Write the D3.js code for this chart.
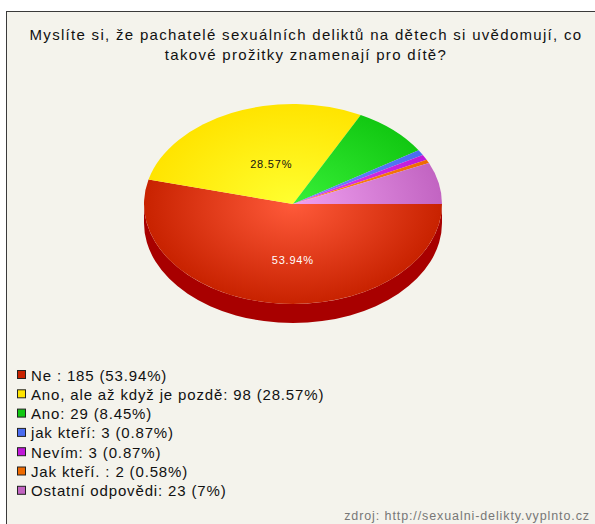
<!DOCTYPE html>
<html lang="cs">
  <head>
    <meta charset="UTF-8" />
    <style>
      body { margin: 0; background: #fff; }
      text { font-family: "Liberation Sans", Arial, sans-serif; }
    </style>
    <title>pie</title>
  </head>
  <body>
    <svg width="595" height="524" id="svg"></svg>
    <script src="https://cdn.jsdelivr.net/npm/d3@7"></script>
    <script>
      // data
      const labels = ["Ne", "Ano, ale až když je pozdě", "Ano", "jak kteří", "Nevím", "Jak kteří.", "Ostatní odpovědi"];
      const counts = [185, 98, 29, 3, 3, 2, 23];
      const legendText = [
        "Ne : 185 (53.94%)",
        "Ano, ale až když je pozdě: 98 (28.57%)",
        "Ano: 29 (8.45%)",
        "jak kteří: 3 (0.87%)",
        "Nevím: 3 (0.87%)",
        "Jak kteří. : 2 (0.58%)",
        "Ostatní odpovědi: 23 (7%)",
      ];
      const title = ["Myslíte si, že pachatelé sexuálních deliktů na dětech si uvědomují, co", "takové prožitky znamenají pro dítě?"];
      const source = "zdroj: http://sexualni-delikty.vyplnto.cz";

      const baseColors = ["#c82200", "#ffe400", "#12c812", "#4a6cf0", "#c018d8", "#ee6a00", "#c264c2"];
      const lightColors = ["#ff5a3a", "#ffff30", "#38f038", "#6c8cff", "#e040f0", "#ff9020", "#f0a0f0"];
      const sideColors = ["#a80000", "#c8b000", "#0a9a0a", "#3050c0", "#9010a8", "#b85000", "#985098"];

      const svg = d3.select("#svg");
      const width = +svg.attr("width");
      const height = +svg.attr("height");

      // frame
      svg.append("rect")
        .attr("x", 6.5).attr("y", 11.5)
        .attr("width", width + 10).attr("height", height + 10)
        .attr("fill", "#f4f3ec").attr("stroke", "#3a3a3a");

      // title
      svg.append("g").selectAll("text")
        .data(title)
        .join("text")
        .attr("x", 306)
        .attr("y", (d, i) => 40 + i * 20)
        .attr("text-anchor", "middle")
        .attr("font-size", 15)
        .attr("letter-spacing", 1.3)
        .attr("fill", "#111")
        .text(d => d);

      // pie
      const cx = 293, cy = 204, rx = 149, ry = 100, depth = 19;
      const total = d3.sum(counts);
      const pie = d3.pie().sort(null)
        .startAngle(Math.PI / 2).endAngle(Math.PI / 2 + 2 * Math.PI);
      const arcs = pie(counts);
      const arc = d3.arc().innerRadius(0).outerRadius(ry);

      const defs = svg.append("defs");
      arcs.forEach((d, i) => {
        const gr = defs.append("radialGradient")
          .attr("id", "g" + i)
          .attr("gradientUnits", "userSpaceOnUse")
          .attr("cx", 0).attr("cy", 0).attr("r", ry);
        gr.append("stop").attr("offset", "0%").attr("stop-color", lightColors[i]);
        gr.append("stop").attr("offset", "100%").attr("stop-color", baseColors[i]);
      });

      const pg = svg.append("g")
        .attr("transform", `translate(${cx},${cy}) scale(${rx / ry},1)`);

      // side wall, front half only
      const frontA0 = Math.PI / 2, frontA1 = 3 * Math.PI / 2;
      arcs.forEach((d, i) => {
        const a0 = Math.max(d.startAngle, frontA0);
        const a1 = Math.min(d.endAngle, frontA1);
        if (a1 <= a0) return;
        const p = d3.path();
        p.moveTo(ry * Math.sin(a0), -ry * Math.cos(a0));
        p.arc(0, 0, ry, a0 - Math.PI / 2, a1 - Math.PI / 2);
        p.lineTo(ry * Math.sin(a1), -ry * Math.cos(a1) + depth);
        p.arc(0, depth, ry, a1 - Math.PI / 2, a0 - Math.PI / 2, true);
        p.closePath();
        pg.append("path")
          .attr("d", p.toString())
          .attr("fill", sideColors[i]);
      });

      pg.selectAll("path.slice")
        .data(arcs)
        .join("path")
        .attr("class", "slice")
        .attr("d", arc)
        .attr("fill", (d, i) => `url(#g${i})`);

      // labels for large slices
      const labelArc = d3.arc().innerRadius(ry * 0.5).outerRadius(ry * 0.5);
      svg.append("g").selectAll("text")
        .data(arcs.filter(d => d.value / total > 0.1))
        .join("text")
        .attr("transform", d => {
          const [x, y] = labelArc.centroid(d);
          return `translate(${cx + x * rx / ry + 9},${cy + y + 10})`;
        })
        .attr("text-anchor", "middle")
        .attr("font-size", 11)
        .attr("letter-spacing", 0.8)
        .attr("fill", d => d.index === 0 ? "#fff" : "#111")
        .text(d => (d.value / total * 100).toFixed(2) + "%");

      // legend
      const lg = svg.append("g").attr("transform", "translate(17,375)");
      const rows = lg.selectAll("g")
        .data(legendText)
        .join("g")
        .attr("transform", (d, i) => `translate(0,${i * 19.3})`);
      rows.append("rect")
        .attr("x", 0.5).attr("y", -4.5)
        .attr("width", 8).attr("height", 8)
        .attr("fill", (d, i) => baseColors[i])
        .attr("stroke", "#222");
      rows.append("text")
        .attr("x", 14).attr("y", 5.5)
        .attr("font-size", 15)
        .attr("letter-spacing", 0.85)
        .attr("fill", "#111")
        .text(d => d);

      // source
      svg.append("text")
        .attr("x", 590).attr("y", 520)
        .attr("text-anchor", "end")
        .attr("font-size", 12.5)
        .attr("letter-spacing", 0.9)
        .attr("fill", "#777")
        .text(source);
    </script>
  </body>
</html>
